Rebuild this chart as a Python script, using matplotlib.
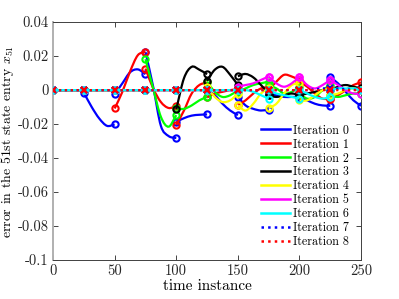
import numpy as np
import matplotlib
matplotlib.use("Agg")
import matplotlib.pyplot as plt
from matplotlib.path import Path
from matplotlib.patches import PathPatch
from matplotlib.lines import Line2D

plt.rcParams['font.family'] = ['cmr10', 'DejaVu Serif']
plt.rcParams['mathtext.fontset'] = 'cm'
plt.rcParams['axes.unicode_minus'] = False
plt.rcParams['axes.formatter.use_mathtext'] = True

# ---- data ----
window_starts = [0, 25, 50, 75, 100, 125, 150, 175, 200, 225]
seg_offsets = [0, 6.25, 12.5, 18.75, 25]
Z = [0, 0, 0, 0, 0]

it0 = [Z,
       [-0.0015, -0.0098, -0.0167, -0.021, -0.0202],
       [-0.0024, 0.004, 0.0105, 0.0122, 0.0094],
       [0.0225, 0.002, -0.021, -0.027, -0.0282],
       [-0.0186, -0.0165, -0.015, -0.0145, -0.0143],
       [0.0, -0.003, -0.008, -0.012, -0.0147],
       [-0.0039, -0.009, -0.011, -0.012, -0.0114],
       [-0.003, -0.003, -0.004, -0.004, -0.004],
       [-0.004, -0.006, -0.008, -0.009, -0.0092],
       [0.0075, 0.004, -0.001, -0.006, -0.0092]]
it1 = [Z, Z,
       [-0.0108, -0.001, 0.011, 0.0205, 0.0225],
       [0.0127, 0.001, -0.007, -0.0105, -0.0094],
       [-0.0205, -0.012, -0.002, 0.003, 0.0045],
       [-0.0043, -0.002, -0.001, 0.0, 0.0005],
       [-0.0088, -0.006, -0.002, 0.001, 0.002],
       [0.0, 0.005, 0.009, 0.008, 0.006],
       [0.005, 0.002, -0.002, -0.005, -0.005],
       [-0.005, -0.003, 0.0, 0.003, 0.0045]]
it2 = [Z, Z, Z,
       [0.0182, 0.001, -0.0157, -0.0215, -0.0147],
       [-0.0108, -0.011, -0.009, -0.006, -0.004],
       [0.005, -0.001, -0.004, -0.003, 0.0],
       [-0.001, 0.001, 0.003, 0.004, 0.005],
       [0.003, 0.001, -0.002, -0.001, 0.002],
       [-0.002, -0.005, -0.004, 0.0, 0.003],
       [-0.003, -0.004, -0.003, -0.002, -0.002]]
it3 = [Z, Z, Z, Z,
       [-0.0112, 0.007, 0.0137, 0.012, 0.0094],
       [0.0055, 0.012, 0.0137, 0.009, 0.003],
       [0.0082, 0.0095, 0.0075, 0.003, -0.002],
       [-0.003, -0.004, -0.003, -0.002, -0.003],
       [-0.003, -0.002, -0.001, 0.0, 0.001],
       [0.0, 0.002, 0.003, 0.002, 0.001]]
it4 = [Z, Z, Z, Z, Z,
       [0.0016, -0.004, -0.007, -0.006, -0.002],
       [-0.009, -0.012, -0.008, -0.002, 0.001],
       [-0.0105, -0.008, -0.002, 0.003, 0.004],
       [-0.006, -0.006, -0.003, 0.0, 0.001],
       [-0.003, -0.002, 0.0, 0.001, 0.0]]
it5 = [Z, Z, Z, Z, Z, Z,
       [0.002, 0.003, 0.004, 0.006, 0.008],
       [0.008, 0.004, 0.002, 0.004, 0.008],
       [0.008, 0.003, 0.001, 0.003, 0.006],
       [0.006, 0.003, 0.0, -0.002, -0.002]]
it6 = [Z, Z, Z, Z, Z, Z,
       [0.0, 0.0, -0.001, -0.003, -0.005],
       [0.0, -0.002, -0.003, -0.004, -0.005],
       [0.0, -0.002, -0.004, -0.005, -0.004],
       [0.0, 0.001, 0.001, 0.001, 0.0]]
it7 = [Z, Z, Z, Z, Z, Z, Z, Z,
       [0.0, 0.0, 0.0005, 0.001, 0.001],
       [0.0005, 0.0008, 0.0005, 0.0002, 0.0]]
it8 = [Z] * 10

iterations = [it0, it1, it2, it3, it4, it5, it6, it7, it8]
labels = ['Iteration %d' % k for k in range(9)]
colors = ['#0000ff', '#ff0000', '#00ff00', '#000000', '#ffff00',
          '#ff00ff', '#00ffff', '#0000ff', '#ff0000']
styles = ['-'] * 7 + [':', ':']
markers = ['o'] * 7 + ['x', 'x']

xticks = [0, 50, 100, 150, 200, 250]
yticks = [-0.1, -0.08, -0.06, -0.04, -0.02, 0, 0.02, 0.04]
yticklabels = ['-0.1', '-0.08', '-0.06', '-0.04', '-0.02', '0', '0.02', '0.04']


def smooth_path(xs, ys):
    pts = np.column_stack([xs, ys])
    n = len(pts)
    ext = np.vstack([2 * pts[0] - pts[1], pts, 2 * pts[-1] - pts[-2]])
    verts = [pts[0]]
    codes = [Path.MOVETO]
    for i in range(n - 1):
        p0, p1, p2, p3 = ext[i], ext[i + 1], ext[i + 2], ext[i + 3]
        c1 = p1 + (p2 - p0) / 6.0
        c2 = p2 - (p3 - p1) / 6.0
        verts += [c1, c2, p2]
        codes += [Path.CURVE4] * 3
    return Path(verts, codes)


fig = plt.figure(figsize=(3.99, 2.99), dpi=100)
ax = fig.add_axes([0.133, 0.130, 0.772, 0.796])

for k, segs in enumerate(iterations):
    for w0, vals in zip(window_starts, segs):
        xs = np.array([w0 + o for o in seg_offsets], dtype=float)
        ys = np.array(vals, dtype=float)
        ax.add_patch(PathPatch(smooth_path(xs, ys), fill=False,
                               edgecolor=colors[k], lw=1.6,
                               linestyle=styles[k], zorder=2 + k))
        ax.plot([xs[0], xs[-1]], [ys[0], ys[-1]], linestyle='none',
                marker=markers[k], ms=4.5, mew=1.5, mfc='none',
                mec=colors[k], zorder=2 + k)

ax.set_xlim(0, 250)
ax.set_ylim(-0.1, 0.04)
ax.set_xticks(xticks)
ax.set_xticklabels([str(t) for t in xticks])
ax.set_yticks(yticks)
ax.set_yticklabels(yticklabels)
ax.tick_params(direction='in', length=3.5, width=0.6, top=True, right=True,
               labelsize=10.5, colors='#262626', pad=3)
for s in ['top', 'right', 'bottom']:
    ax.spines[s].set_color('#404040')
    ax.spines[s].set_linewidth(0.7)
ax.spines['left'].set_color('#b0b0b0')
ax.spines['left'].set_linewidth(1.4)

ax.set_xlabel('time instance', fontsize=11, labelpad=1)
ax.set_ylabel(r'error in the 51st state entry $x_{51}$', fontsize=10,
              labelpad=1)

handles = [Line2D([], [], color=colors[k], lw=1.8, linestyle=styles[k])
           for k in range(9)]
ax.legend(handles, labels, loc='lower right', frameon=False, fontsize=8.7,
          handlelength=2.4, handletextpad=0.25, labelspacing=0.15,
          borderaxespad=0.6)

fig.savefig('out.png', dpi=100)
